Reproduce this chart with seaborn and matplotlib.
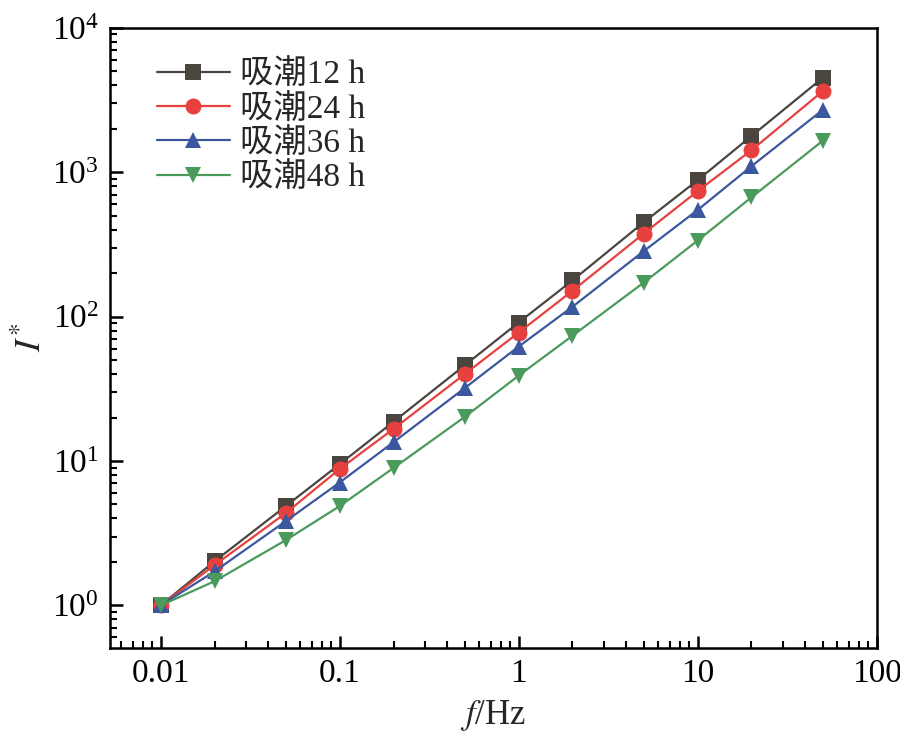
import numpy as np
import pandas as pd
import matplotlib
matplotlib.use("Agg")
import matplotlib.pyplot as plt
import matplotlib.ticker as mticker
import seaborn as sns

freq = [0.01, 0.02, 0.05, 0.1, 0.2, 0.5, 1, 2, 5, 10, 20, 50]
i_12h = [1.0, 2.02, 4.87, 9.5, 18.7, 46, 91, 178, 450, 880, 1780, 4500]
i_24h = [1.0, 1.9, 4.36, 8.8, 16.7, 40, 77.5, 151, 376, 739, 1420, 3640]
i_36h = [1.0, 1.72, 3.83, 7.1, 13.5, 32, 62, 117, 284, 547, 1100, 2700]
i_48h = [1.0, 1.47, 2.83, 4.87, 8.95, 20.2, 39, 73.7, 172, 336, 670, 1650]
labels = ['吸潮12 h', '吸潮24 h', '吸潮36 h', '吸潮48 h']

df = pd.concat([
    pd.DataFrame({'f': freq, 'I': vals, 'group': lab})
    for lab, vals in zip(labels, [i_12h, i_24h, i_36h, i_48h])
])

sns.set_style('ticks')
plt.rcParams['font.family'] = ['Liberation Serif', 'Noto Sans CJK SC']
plt.rcParams['mathtext.fontset'] = 'stix'

palette = dict(zip(labels, ['#4b4540', '#e8403f', '#3b589f', '#4a9a5c']))
markers = dict(zip(labels, ['s', 'o', '^', 'v']))

fig = plt.figure(figsize=(9, 7.31), dpi=100)
ax = fig.add_axes([0.122, 0.114, 0.852, 0.848])

sns.lineplot(data=df, x='f', y='I', hue='group', style='group',
             palette=palette, markers=markers, dashes=False,
             markersize=11.5, markeredgewidth=0, linewidth=1.6, ax=ax)

ax.set_xscale('log')
ax.set_yscale('log')
ax.set_xlim(0.0052, 100)
ax.set_ylim(0.51, 1e4)

ax.xaxis.set_major_locator(mticker.FixedLocator([0.01, 0.1, 1, 10, 100]))
ax.xaxis.set_major_formatter(mticker.FuncFormatter(lambda v, p: f'{v:g}'))
ax.xaxis.set_minor_locator(mticker.LogLocator(base=10, subs=np.arange(2, 10)))
ax.xaxis.set_minor_formatter(mticker.NullFormatter())
ax.yaxis.set_major_locator(mticker.LogLocator(base=10, numticks=10))
ax.yaxis.set_minor_locator(mticker.LogLocator(base=10, subs=np.arange(2, 10), numticks=20))
ax.yaxis.set_minor_formatter(mticker.NullFormatter())

ax.tick_params(which='major', direction='in', length=9, width=1.8, labelsize=24,
               top=False, right=False, pad=8, colors='black')
ax.tick_params(which='minor', direction='in', length=5, width=1.5,
               top=False, right=False, colors='black')
for s in ax.spines.values():
    s.set_linewidth(1.8)
    s.set_color('black')

ax.set_xlabel(r'$\mathit{f}$/Hz', fontsize=25, labelpad=6)
ax.set_ylabel(r'$\mathit{I}^{*}$', fontsize=26, labelpad=2)

leg = ax.legend(loc='upper left', bbox_to_anchor=(0.02, 1.0), frameon=False,
                fontsize=24, handlelength=2.2, handletextpad=0.3,
                labelspacing=0.1, borderaxespad=0.5, borderpad=0.45)

fig.savefig('out.png', dpi=100)
